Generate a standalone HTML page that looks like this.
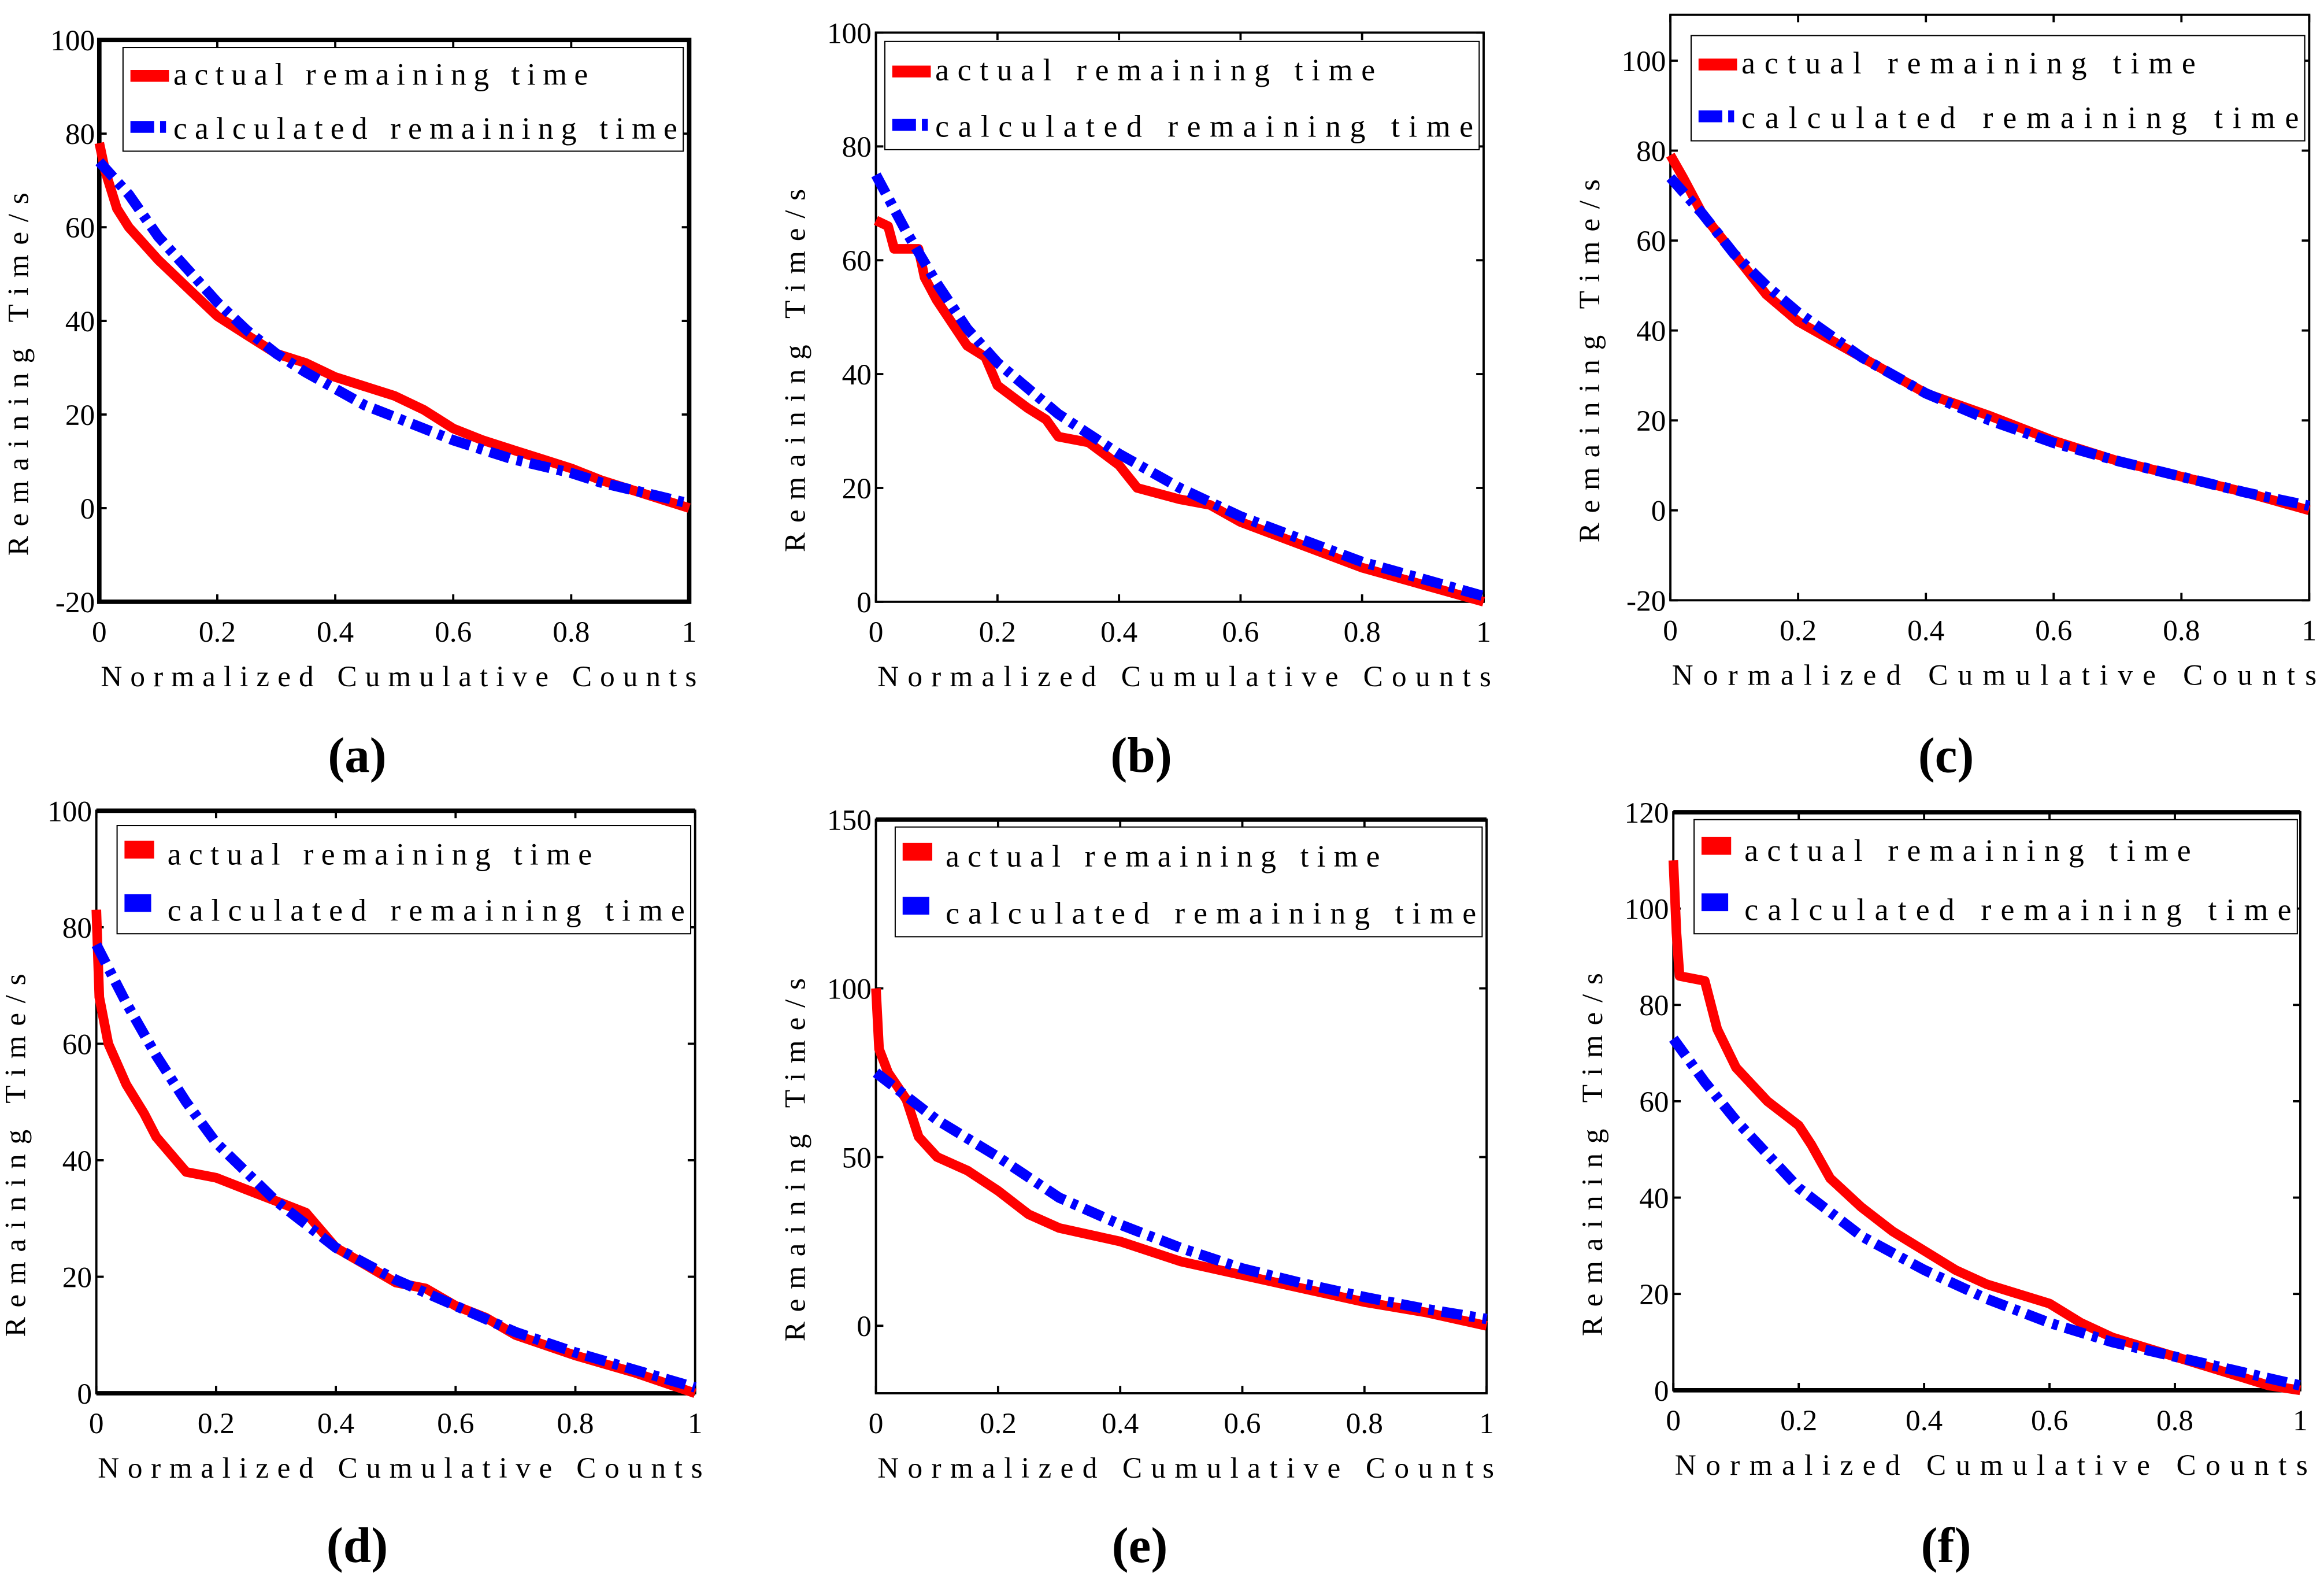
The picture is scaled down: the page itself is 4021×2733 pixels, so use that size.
<!DOCTYPE html>
<html><head><meta charset="utf-8"><style>
html,body{margin:0;padding:0;background:#fff}
svg{display:block}
text{font-family:"Liberation Serif",serif;fill:#000}
</style></head><body>
<svg id="fig" width="4021" height="2733" viewBox="0 0 1568 1066" preserveAspectRatio="none" xmlns="http://www.w3.org/2000/svg"></svg>
<script>
// ---- data arrays ----
const aActX=[0,0.01,0.03,0.05,0.1,0.15,0.2,0.25,0.3,0.35,0.4,0.45,0.5,0.55,0.6,0.65,0.7,0.75,0.8,0.85,0.9,0.95,1];
const aActY=[78,72,64,60,53,47,41,37,33,31,28,26,24,21,17,14.5,12.5,10.5,8.5,6,4,2,0];
const aCalX=[0,0.05,0.1,0.15,0.2,0.25,0.3,0.35,0.4,0.45,0.5,0.55,0.6,0.65,0.7,0.75,0.8,0.85,0.9,0.95,1];
const aCalY=[74,67,58,51,44,38,33,29,25.5,22,19.5,17,14.5,12.5,10.5,9,7.5,5.5,4,2.5,1];
const bActX=[0,0.02,0.03,0.07,0.08,0.1,0.15,0.18,0.2,0.25,0.28,0.3,0.35,0.4,0.43,0.5,0.55,0.6,0.7,0.8,0.9,1];
const bActY=[67,66,62,62,57,53,45,43,38,34,32,29,28,24,20,18,17,14,10,6,3,0];
const bCalX=[0,0.05,0.1,0.15,0.2,0.3,0.4,0.5,0.6,0.7,0.8,0.9,1];
const bCalY=[75,65,56,48,42,33,26,20,15,11,7,4,1];
const cActX=[0,0.02,0.05,0.1,0.15,0.2,0.3,0.4,0.5,0.6,0.7,0.8,0.9,1];
const cActY=[79,74,66,57,48,42,34,26,21,15.5,11,7.5,4,0];
const cCalX=[0,0.05,0.1,0.15,0.2,0.3,0.4,0.5,0.6,0.7,0.8,0.9,1];
const cCalY=[74,66,57,50,44,34,26,20,15,11,7.5,4,1];
const dActX=[0,0.005,0.02,0.05,0.08,0.1,0.15,0.2,0.25,0.3,0.35,0.4,0.45,0.5,0.55,0.6,0.65,0.7,0.8,0.9,1];
const dActY=[83,68,60,53,48,44,38,37,35,33,31,25,22,19,18,15,13,10,6.5,3.5,0];
const dCalX=[0,0.05,0.1,0.15,0.2,0.3,0.4,0.5,0.6,0.7,0.8,0.9,1];
const dCalY=[77,67,58,50,43,33,25,19.5,15,10.5,7,4,1];
const eActX=[0,0.005,0.02,0.05,0.07,0.1,0.15,0.2,0.25,0.3,0.4,0.5,0.6,0.7,0.8,0.9,1];
const eActY=[100,82,75,67,56,50,46,40,33,29,25,19,15,11,7,4,0];
const eCalX=[0,0.05,0.1,0.2,0.3,0.4,0.5,0.6,0.7,0.8,0.9,1];
const eCalY=[75,68,61,50,38,30,23,17,12.5,8.5,5,2];
const fActX=[0,0.005,0.01,0.05,0.07,0.1,0.15,0.2,0.22,0.25,0.3,0.35,0.4,0.45,0.5,0.6,0.65,0.7,0.8,0.9,0.95,1];
const fActY=[110,95,86,85,75,67,60,55,51,44,38,33,29,25,22,18,14,11,7,3,1,0];
const fCalX=[0,0.05,0.1,0.15,0.2,0.3,0.4,0.5,0.6,0.7,0.8,0.9,1];
const fCalY=[73,64,56,49,42,32,25,19,14,10,7,4,1];
const xTicks=[0,0.2,0.4,0.6,0.8,1];
const xTickLabels=["0","0.2","0.4","0.6","0.8","1"];
const aYTicks=[-20,0,20,40,60,80,100];
const bYTicks=[0,20,40,60,80,100];
const cYTicks=[-20,0,20,40,60,80,100];
const dYTicks=[0,20,40,60,80,100];
const eYTicks=[0,50,100,150];
const fYTicks=[0,20,40,60,80,100,120];

const NS="http://www.w3.org/2000/svg";
const svg=document.getElementById('fig');
function mk(tag,attrs,parent,txt){const e=document.createElementNS(NS,tag);for(const k in attrs)e.setAttribute(k,attrs[k]);if(txt!==undefined)e.textContent=txt;(parent||svg).appendChild(e);return e;}

const panels=[
 {id:'a',L:67,R:465,T:27,B:406,ymin:-20,ymax:100,yt:aYTicks,ax:aActX,ay:aActY,cx:aCalX,cy:aCalY,leg:[83,32,461,102],row:0,thick:true,lab:241},
 {id:'b',L:591,R:1001,T:22,B:406,ymin:0,ymax:100,yt:bYTicks,ax:bActX,ay:bActY,cx:bCalX,cy:bCalY,leg:[597,28,998,101],row:0,thick:false,lab:770},
 {id:'c',L:1127,R:1558,T:10,B:405,ymin:-20,ymax:110.2,yt:cYTicks,ax:cActX,ay:cActY,cx:cCalX,cy:cCalY,leg:[1141,24,1555,95],row:0,thick:false,lab:1313},
 {id:'d',L:65,R:469,T:547,B:940,ymin:0,ymax:100,yt:dYTicks,ax:dActX,ay:dActY,cx:dCalX,cy:dCalY,leg:[79,557,466,630],row:1,thick:false,lab:241},
 {id:'e',L:591,R:1003,T:553,B:940,ymin:-20,ymax:150,yt:eYTicks,ax:eActX,ay:eActY,cx:eCalX,cy:eCalY,leg:[604,558,1000,632],row:1,thick:false,lab:769},
 {id:'f',L:1129,R:1552,T:548,B:938,ymin:0,ymax:120,yt:fYTicks,ax:fActX,ay:fActY,cx:fCalX,cy:fCalY,leg:[1143,553,1550,630],row:1,thick:false,lab:1313}
];

panels.forEach(p=>{
 const g=mk('g',{});
 
 
 const sx=v=>p.L+(p.R-p.L)*v;
 const sy=v=>p.B-(p.B-p.T)*(v-p.ymin)/(p.ymax-p.ymin);
 const fw=p.thick?3:1.5;
 const fr=mk('rect',{x:p.L,y:p.T,width:p.R-p.L,height:p.B-p.T,fill:'none',stroke:'#000','stroke-width':fw},g);
 
 
 if(p.row===1&&p.id!=='e'){mk('line',{x1:p.L,y1:p.T,x2:p.R,y2:p.T,stroke:'#000','stroke-width':3},g);mk('line',{x1:p.L,y1:sy(0),x2:p.R,y2:sy(0),stroke:'#000','stroke-width':3},g);}
 if(p.id==='e'){mk('line',{x1:p.L,y1:p.T,x2:p.R,y2:p.T,stroke:'#000','stroke-width':3},g);}
 const xa=mk('g',{},g);
 
 
 xTicks.forEach((t,i)=>{
  const x=sx(t);
  mk('line',{x1:x,y1:p.B,x2:x,y2:p.B-5,stroke:'#000','stroke-width':1.5},xa);
  mk('line',{x1:x,y1:p.T,x2:x,y2:p.T+5,stroke:'#000','stroke-width':1.5},xa);
  const tx=mk('text',{x:x,y:p.B+27,'text-anchor':'middle','font-size':20},xa,xTickLabels[i]);
  
  
 });
 const ya=mk('g',{},g);
 
 
 p.yt.forEach(t=>{
  const y=sy(t);
  mk('line',{x1:p.L,y1:y,x2:p.L+5,y2:y,stroke:'#000','stroke-width':1.5},ya);
  mk('line',{x1:p.R,y1:y,x2:p.R-5,y2:y,stroke:'#000','stroke-width':1.5},ya);
  const tx=mk('text',{x:p.L-3,y:y+7,'text-anchor':'end','font-size':20},ya,String(t));
  
  
 });
 const xl=mk('text',{x:(p.L+p.R)/2+3,y:p.B+57,'text-anchor':'middle','font-size':20,textLength:(p.R-p.L)+4,lengthAdjust:'spacing'},g,'Normalized Cumulative Counts');
 
 
 const cyl=(p.T+p.B)/2+36;
 const ylab=mk('text',{x:0,y:0,'text-anchor':'middle','font-size':20,transform:`translate(${p.L-48},${cyl}) rotate(-90)`,textLength:245,lengthAdjust:'spacing'},g,'Remaining Time/s');
 
 
 const ptsA=p.ax.map((v,i)=>sx(v).toFixed(1)+','+sy(p.ay[i]).toFixed(1)).join(' ');
 const ptsC=p.cx.map((v,i)=>sx(v).toFixed(1)+','+sy(p.cy[i]).toFixed(1)).join(' ');
 const la=mk('polyline',{points:ptsA,fill:'none',stroke:'#ff0000','stroke-width':6.5,'stroke-linejoin':'round'},g);
 
 
 const lc=mk('polyline',{points:ptsC,fill:'none',stroke:'#0000ff','stroke-width':7,'stroke-dasharray':'14 5 4 5'},g);
 
 
 const [lx1,ly1,lx2,ly2]=p.leg;
 const lg=mk('g',{},g);
 
 
 mk('rect',{x:lx1,y:ly1,width:lx2-lx1,height:ly2-ly1,fill:'#fff',stroke:'#000','stroke-width':0.8},lg);
 const h=ly2-ly1, r1=ly1+h*0.36, r2=ly1+h*0.88;
 if(p.row===0){
  mk('line',{x1:lx1+5,y1:r1-6,x2:lx1+31,y2:r1-6,stroke:'#ff0000','stroke-width':8},lg);
  mk('line',{x1:lx1+5,y1:r2-8,x2:lx1+31,y2:r2-8,stroke:'#0000ff','stroke-width':8,'stroke-dasharray':'16 4 4 4'},lg);
 } else {
  mk('rect',{x:lx1+5,y:r1-16,width:20,height:12,fill:'#ff0000'},lg);
  mk('rect',{x:lx1+5,y:r2-18,width:18,height:12,fill:'#0000ff'},lg);
 }
 const t1=mk('text',{x:lx1+34,y:r1,'font-size':21,textLength:(lx2-lx1)*0.74,lengthAdjust:'spacing'},lg,'actual remaining time');
 
 
 const t2=mk('text',{x:lx1+34,y:r2,'font-size':21,textLength:(lx2-lx1)-38,lengthAdjust:'spacing'},lg,'calculated remaining time');
 
 
 const sl=mk('text',{x:p.lab,y:p.row===0?521:1054,'text-anchor':'middle','font-size':34,'font-weight':'bold'},g,'('+p.id+')');
 
 
});
</script>
</body></html>
